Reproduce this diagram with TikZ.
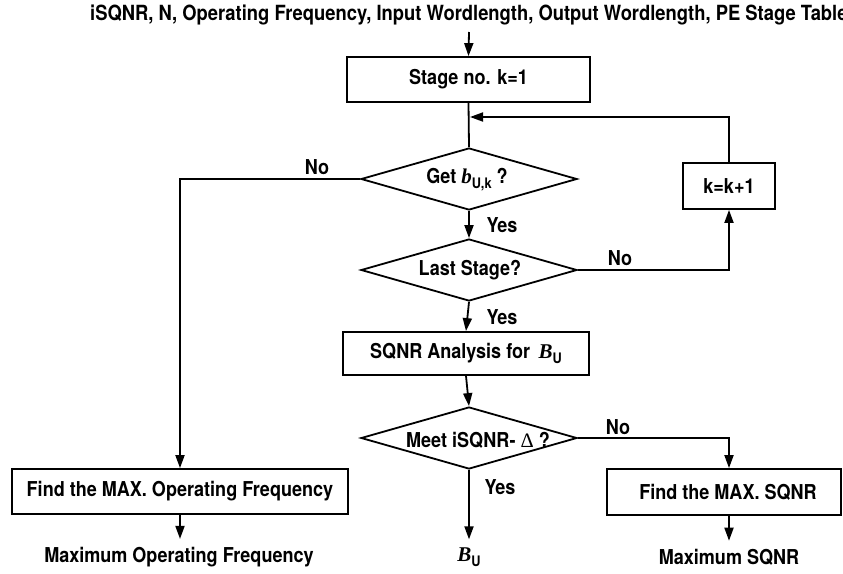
\documentclass[tikz,border=0pt]{standalone}
\usepackage{fontspec}
\setmainfont{TeX Gyre Heros}[FakeStretch=0.88]
\newfontfamily\serifit{Liberation Serif}
\usetikzlibrary{arrows.meta,shapes.geometric,calc}

% text helpers
\newcommand\boldtext{\fontsize{20.5}{23}\selectfont\bfseries}
\newcommand\titletext{\fontsize{20.9}{23}\selectfont\bfseries}
\newcommand\varsym[1]{{\serifit\bfseries\itshape\fontsize{21}{23}\selectfont #1}}
\newcommand\subsc[1]{\raisebox{-0.45ex}{\fontsize{14.5}{15}\selectfont\bfseries #1}}

\tikzset{
  flow/.style={line width=1.8pt},
  arr/.style={flow,-{Triangle[length=13pt,width=9pt]}},
  procbox/.style={draw,line width=1.8pt,minimum height=45pt,inner sep=0pt,font=\boldtext},
  decision/.style={draw,diamond,line width=1.8pt,minimum width=216pt,minimum height=62pt,inner sep=0pt},
  txt/.style={inner sep=0pt,font=\boldtext},
}

\begin{document}
\begin{tikzpicture}[x=1pt,y=1pt]
\useasboundingbox (0,0) rectangle (843,-573);

% inputs
\node[txt,font=\titletext,anchor=west] (title) at (90,-15)
  {iSQNR, N, Operating Frequency, Input Wordlength, Output Wordlength, PE Stage Table};
\coordinate (in) at (469,-32);

% blocks
\node[procbox,minimum width=243pt] (init) at (468.5,-79.5) {Stage no. k=1};
\node[decision] (getb) at (469,-179) {};
\node[txt] (getbt) at (467,-180) {Get \varsym{b}\subsc{U,k} ?};
\node[procbox,minimum width=92pt,minimum height=46pt] (inc) at (729,-186) {k=k+1};
\node[decision] (last) at (469,-270) {};
\node[txt] (lastt) at (470,-270) {Last Stage?};
\node[procbox,minimum width=246pt,minimum height=43pt] (ana) at (466,-353.5)
  {SQNR Analysis for\, \varsym{B}\subsc{U}};
\node[decision] (meet) at (469,-438) {};
\node[txt] (meett) at (478,-440) {Meet iSQNR- {\serifit\mdseries Δ} ?};
\node[procbox,minimum width=336pt] (fmax) at (180,-491.5) {Find the MAX. Operating Frequency};
\node[procbox,minimum width=234pt,minimum height=46pt] (smax) at (724,-492) {\hspace*{8pt}Find the MAX. SQNR};

% outputs
\node[txt] (ofreq) at (179,-557) {Maximum Operating Frequency};
\node[txt] (obu) at (469,-557) {\varsym{B}\subsc{U}};
\node[txt] (osqnr) at (729,-557) {Maximum SQNR};
\coordinate (fb) at (470,-117);

% connectors
\draw[arr] (in) -- (init.north);
\draw[flow] (init.south) -- (getb.north);
\draw[arr] (inc.north) |- (fb);
\draw[arr] (getb.south) -- (last.north);
\draw[arr] (getb.west) -| (fmax.north);
\draw[arr] (last.east) -| (inc.south);
\draw[arr] (last.south) -- (ana.north);
\draw[arr] (ana.south) -- (meet.north);
\draw[arr] (meet.east) -| ([xshift=5pt]smax.north);
\draw[arr] (meet.south) -- ([yshift=8pt]obu.north);
\draw[arr] (fmax.south) -- ([yshift=8pt]ofreq.north -| fmax.south);
\draw[arr] ([xshift=5pt]smax.south) -- ([yshift=8pt]osqnr.north);

% branch labels
\node[txt] (no1) at (317,-167) {No};
\node[txt] (yes1) at (502,-225) {Yes};
\node[txt] (no2) at (620,-258) {No};
\node[txt] (yes2) at (502,-317) {Yes};
\node[txt] (no3) at (618,-427) {No};
\node[txt] (yes3) at (500,-487) {Yes};
\end{tikzpicture}
\end{document}
